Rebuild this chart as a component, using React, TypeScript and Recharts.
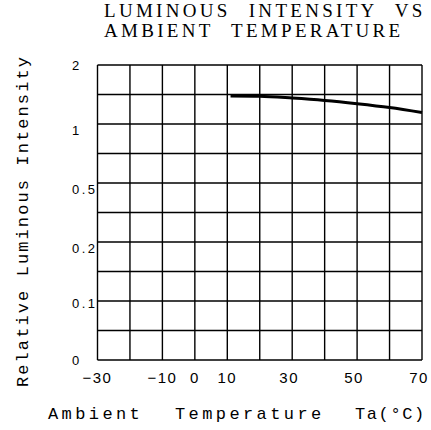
import { LineChart, Line, XAxis, YAxis, CartesianGrid } from 'recharts';

// temperature (°C) and curve height, read in grid rows (the printed y scale is not linear:
// 0 / 0.1 / 0.2 / 0.5 / 1 / 2 sit on every second line)
const temps = [11, 20, 30, 40, 50, 60, 70];
const intensity = [8.95, 8.94, 8.88, 8.8, 8.69, 8.56, 8.39];

const xTicks = [-30, -20, -10, 0, 10, 20, 30, 40, 50, 60, 70];
const xLabels = ['−30', '', '−10', '0', '10', '', '30', '', '50', '', '70'];
const yTicks = [0, 1, 2, 3, 4, 5, 6, 7, 8, 9, 10];
const yLabels = ['0', '', '0.1', '', '0.2', '', '0.5', '', '1', '', '2'];

const data = temps.map((t, i) => ({ t, v: intensity[i] }));

const tickFont = '"Liberation Sans", Arial, sans-serif';
const labelFont = '"Liberation Mono", monospace';
const titleFont = '"Liberation Serif", serif';

const XTick = (props: any) => {
  const { x, y, payload } = props;
  const idx = xTicks.indexOf(payload.value);
  const label = xLabels[idx] || '';
  if (!label) return null;
  const dx = payload.value >= 30 ? -3 : 0;
  return (
    <text x={x + dx} y={y + 21} textAnchor="middle" fontFamily={tickFont} fontSize={15} letterSpacing={1.5} fill="#000">
      {label}
    </text>
  );
};

const yOff: Record<number, number> = { 10: 0, 8: 6, 6: 6, 4: 6, 2: 2, 0: 0 };

const YTick = (props: any) => {
  const { y, payload } = props;
  const label = yLabels[payload.value] || '';
  if (!label) return null;
  return (
    <text x={72} y={y + (yOff[payload.value] || 0) + 5} textAnchor="start" fontFamily={tickFont} fontSize={13} letterSpacing={2.5} fill="#000">
      {label}
    </text>
  );
};

export default function App() {
  return (
    <div style={{ position: 'absolute', left: 0, top: 0, width: 431, height: 430, background: '#fff' }}>
      <LineChart width={431} height={430} data={data} margin={{ top: 65, right: 9, bottom: 40, left: 0 }}>
        <CartesianGrid stroke="#000" strokeWidth={1.4} />
        <XAxis
          dataKey="t"
          type="number"
          domain={[-30, 70]}
          ticks={xTicks}
          interval={0}
          height={30}
          axisLine={false}
          tickLine={false}
          tickSize={0}
          tick={<XTick />}
        />
        <YAxis
          type="number"
          domain={[0, 10]}
          ticks={yTicks}
          interval={0}
          width={97.5}
          axisLine={false}
          tickLine={false}
          tickSize={0}
          tick={<YTick />}
        />
        <Line dataKey="v" type="monotone" stroke="#000" strokeWidth={3} dot={false} isAnimationActive={false} />
      </LineChart>
      <svg width={431} height={430} style={{ position: 'absolute', left: 0, top: 0, pointerEvents: 'none' }}>
        <text x={104} y={17} fontFamily={titleFont} fontSize={19} letterSpacing={3.3} wordSpacing={10} fill="#000">
          LUMINOUS INTENSITY VS
        </text>
        <text x={104} y={37} fontFamily={titleFont} fontSize={19} letterSpacing={3.3} wordSpacing={10} fill="#000">
          AMBIENT TEMPERATURE
        </text>
        <text x={48} y={419} fontFamily={labelFont} fontSize={17} letterSpacing={3.4} fill="#000">Ambient</text>
        <text x={175} y={419} fontFamily={labelFont} fontSize={17} letterSpacing={3.4} fill="#000">Temperature</text>
        <text x={355} y={419} fontFamily={labelFont} fontSize={17} letterSpacing={1.6} fill="#000">Ta(°C)</text>
        <text
          x={0}
          y={0}
          transform="translate(28, 221) rotate(-90)"
          textAnchor="middle"
          fontFamily={labelFont}
          fontSize={17}
          letterSpacing={2.1}
          fill="#000"
        >
          Relative Luminous Intensity
        </text>
      </svg>
    </div>
  );
}
